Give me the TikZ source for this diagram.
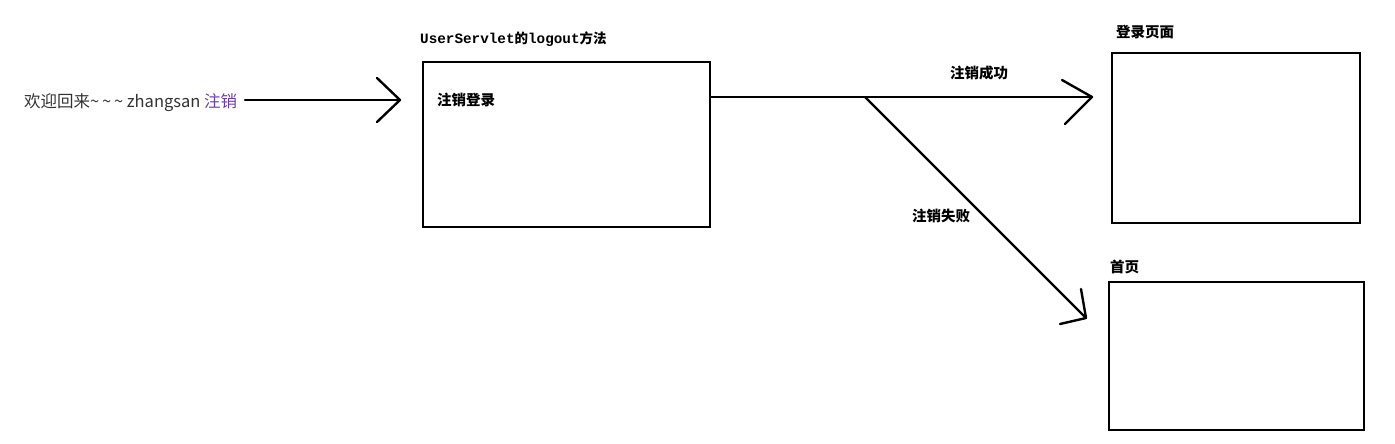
\documentclass[tikz,border=0pt]{standalone}
\usepackage{fontspec}
\setmainfont{Noto Sans CJK SC}
\newfontfamily\cjk{Noto Sans CJK SC}
\newfontfamily\monof{Liberation Mono}
\definecolor{linkpurple}{HTML}{6A3DB8}
\definecolor{txtgray}{HTML}{333333}
\begin{document}
\begin{tikzpicture}[x=1pt,y=-1pt,
  box/.style={draw=black,line width=2.4pt,inner sep=0pt,anchor=north west},
  conn/.style={draw=black,line width=2.4pt,line cap=round,line join=round},
  lbl/.style={font=\cjk\bfseries\fontsize{14.5}{16}\selectfont,anchor=west,inner sep=0pt,text=black}]
\useasboundingbox (0,0) rectangle (1395,444);
% boxes
\node[box,minimum width=287pt,minimum height=165pt] (srv) at (422,61) {};
\node[box,minimum width=248pt,minimum height=170pt] (login) at (1111,52) {};
\node[box,minimum width=255pt,minimum height=148pt] (home) at (1108,281) {};
% labels
\node[anchor=west,inner sep=0pt,font=\fontsize{16.5}{18}\selectfont,text=txtgray] (welcome) at (24,103) {欢迎回来\textasciitilde\,\textasciitilde\,\textasciitilde{} zhangsan \textcolor{linkpurple}{注销}};
\node[lbl,font=\cjk\bfseries\fontsize{13.5}{15}\selectfont] (srvt) at (420,39) {{\monof\bfseries\fontsize{14.3}{15}\selectfont UserServlet}的{\monof\bfseries\fontsize{14.3}{15}\selectfont logout}方法};
\node[lbl] (inner) at (437,100) {注销登录};
\node[lbl] (okl) at (950,73) {注销成功};
\node[lbl] (faill) at (912,216) {注销失败};
\node[lbl] (logint) at (1116,32) {登录页面};
\node[lbl] (homet) at (1110,267) {首页};
% connectors
\coordinate (a0) at (245,100);
\coordinate (a1) at (400,100);
\draw[conn] (a0) -- (a1);
\draw[conn] (377,78) -- (a1) -- (377,122);
\coordinate (b0) at (srv.east |- 0,97);
\coordinate (b1) at (1092,97);
\coordinate (br) at (865,97);
\draw[conn] (b0) -- (b1);
\draw[conn] (1062,80) -- (b1) -- (1065,124);
\coordinate (c1) at (1086,318);
\draw[conn] (br) -- (c1);
\draw[conn] (1081,289) -- (c1) -- (1060,324);
\end{tikzpicture}
\end{document}
